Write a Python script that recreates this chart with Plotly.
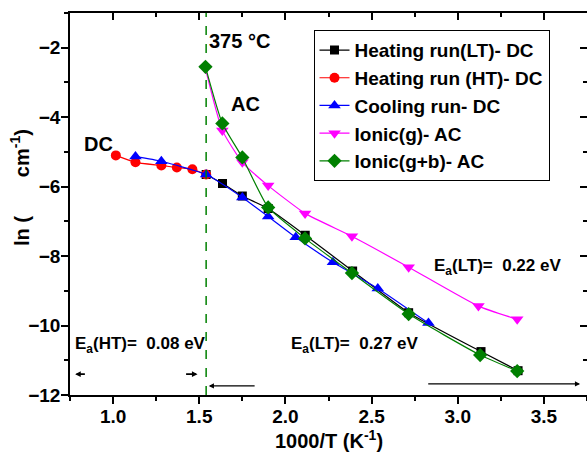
import plotly.graph_objects as go

# ---- data ----
lt_x = [1.54, 1.635, 1.75, 1.90, 2.115, 2.39, 2.715, 3.135, 3.35]
lt_y = [-5.65, -5.91, -6.27, -6.63, -7.40, -8.43, -9.63, -10.75, -11.30]

ht_x = [1.016, 1.13, 1.28, 1.37, 1.46, 1.54]
ht_y = [-5.10, -5.30, -5.39, -5.45, -5.50, -5.65]

cool_x = [1.13, 1.28, 1.54, 1.75, 1.90, 2.06, 2.276, 2.536, 2.83]
cool_y = [-5.13, -5.27, -5.65, -6.31, -6.86, -7.46, -8.18, -8.93, -9.93]

ionic_g_x = [1.536, 1.634, 1.75, 1.90, 2.114, 2.386, 2.715, 3.12, 3.345]
ionic_g_y = [-2.60, -4.38, -5.30, -5.97, -6.77, -7.43, -8.32, -9.44, -9.82]

ionic_gb_x = [1.536, 1.634, 1.75, 1.90, 2.114, 2.386, 2.715, 3.13, 3.345]
ionic_gb_y = [-2.55, -4.18, -5.16, -6.60, -7.49, -8.49, -9.67, -10.85, -11.31]

names = ["Heating run(LT)- DC", "Heating run (HT)- DC", "Cooling run- DC",
         "Ionic(g)- AC", "Ionic(g+b)- AC"]

x_ticks = [1.0, 1.5, 2.0, 2.5, 3.0, 3.5]
y_ticks = [-12, -10, -8, -6, -4, -2]

transition_x = 1.54

FONT = "Liberation Sans, Arial, sans-serif"

fig = go.Figure()

series = [
    (lt_x, lt_y, names[0], "#000000", "square", 9),
    (ht_x, ht_y, names[1], "#ff0000", "circle", 10),
    (cool_x, cool_y, names[2], "#0000ff", "triangle-up", 11),
    (ionic_g_x, ionic_g_y, names[3], "#ff00ff", "triangle-down", 11),
    (ionic_gb_x, ionic_gb_y, names[4], "#008000", "diamond", 11),
]
for xs, ys, nm, col, sym, sz in series:
    fig.add_trace(go.Scatter(
        x=xs, y=ys, name=nm, mode="lines+markers",
        line=dict(color=col, width=1.2, shape="spline", smoothing=0.5),
        marker=dict(color=col, symbol=sym, size=sz, line=dict(width=0)),
    ))

# vertical dashed transition line
fig.add_shape(type="line", x0=transition_x, x1=transition_x, y0=0, y1=1,
              xref="x", yref="paper",
              line=dict(color="#008000", width=1.5, dash="dash"))

def txt(x, y, s, size=16, xanchor="left"):
    fig.add_annotation(x=x, y=y, xref="x", yref="y", text=s, showarrow=False,
                       xanchor=xanchor, yanchor="middle",
                       font=dict(family=FONT, size=size, color="black", weight="bold"))

nb = "\u00a0"
txt(1.545, -1.8, "375 °C", 20)
txt(1.67, -3.61, "AC", 20)
txt(0.82, -4.76, "DC", 20)
txt(2.85, -8.3, "E<sub>a</sub>(LT)=" + nb * 2 + "0.22 eV", 17)
txt(2.02, -10.55, "E<sub>a</sub>(LT)=" + nb * 2 + "0.27 eV", 17)
txt(0.77, -10.55, "E<sub>a</sub>(HT)=" + nb * 2 + "0.08 eV", 17)

# y axis title (as annotation so it can be positioned like the reference)
fig.add_annotation(x=-0.0965, y=0.542, xref="paper", yref="paper",
                   text="ln (" + nb * 7 + "cm<sup>-1</sup>)", textangle=-90,
                   showarrow=False, xanchor="center", yanchor="middle",
                   font=dict(family=FONT, size=20, color="black", weight="bold"))

# x axis title
fig.add_annotation(x=0.5, y=-0.116, xref="paper", yref="paper",
                   text="1000/T (K<sup>-1</sup>)",
                   showarrow=False, xanchor="center", yanchor="middle",
                   font=dict(family=FONT, size=20, color="black", weight="bold"))

def arrow(x_from, x_to, y, width=1.3, head=0.8):
    fig.add_annotation(x=x_to, y=y, ax=x_from, ay=y, xref="x", yref="y",
                       axref="x", ayref="y", text="", showarrow=True,
                       arrowhead=2, arrowsize=head, arrowwidth=width,
                       arrowcolor="black")

arrow(0.845, 0.78, -11.40, 1.6, 0.7)
arrow(1.415, 1.49, -11.40, 1.6, 0.7)
arrow(1.83, 1.555, -11.74)
arrow(2.82, 3.71, -11.68)

axis_font = dict(family=FONT, size=19, color="black", weight="bold")

fig.update_layout(
    width=587, height=452,
    margin=dict(l=70, r=0, t=13, b=57),
    paper_bgcolor="white", plot_bgcolor="white",
    showlegend=True,
    legend=dict(x=0.471, y=0.955, xanchor="left", yanchor="top",
                bgcolor="white", bordercolor="black", borderwidth=1,
                font=dict(family=FONT, size=19, color="black", weight="bold"),
                tracegroupgap=0, itemwidth=30),
    xaxis=dict(range=[0.75, 3.75], tickvals=x_ticks,
               ticktext=["%.1f" % v for v in x_ticks],
               ticks="outside", ticklen=7, tickwidth=1.5, tickcolor="black",
               ticklabelstandoff=-4,
               minor=dict(dtick=0.25, tick0=0.75, ticks="outside", ticklen=4,
                          tickwidth=1.5, tickcolor="black"),
               showline=True, linecolor="black", linewidth=1.5,
               showgrid=False, zeroline=False, tickfont=axis_font),
    yaxis=dict(range=[-12, -1], tickvals=y_ticks,
               ticks="outside", ticklen=7, tickwidth=1.5, tickcolor="black",
               ticklabelstandoff=-3,
               minor=dict(dtick=1, ticks="outside", ticklen=4,
                          tickwidth=1.5, tickcolor="black"),
               showline=True, linecolor="black", linewidth=1.5,
               showgrid=False, zeroline=False, tickfont=axis_font),
    xaxis2=dict(overlaying="x", side="top", matches="x", range=[0.75, 3.75],
                tickvals=x_ticks, showticklabels=False,
                ticks="inside", ticklen=7, tickwidth=1.5, tickcolor="black",
                minor=dict(dtick=0.25, tick0=0.75, ticks="inside", ticklen=4,
                           tickwidth=1.5, tickcolor="black"),
                showline=True, linecolor="black", linewidth=1.5,
                showgrid=False, zeroline=False),
    yaxis2=dict(overlaying="y", side="right", range=[-12, -1],
                tickvals=y_ticks, showticklabels=False,
                ticks="inside", ticklen=7, tickwidth=1.5, tickcolor="black",
                minor=dict(dtick=1, ticks="inside", ticklen=4,
                           tickwidth=1.5, tickcolor="black"),
                showline=True, linecolor="black", linewidth=1.5,
                showgrid=False, zeroline=False),
)

# invisible trace to activate the mirror axes
fig.add_trace(go.Scatter(x=[None], y=[None], xaxis="x2", yaxis="y2",
                         showlegend=False, hoverinfo="skip"))

fig.write_html("out.html")
